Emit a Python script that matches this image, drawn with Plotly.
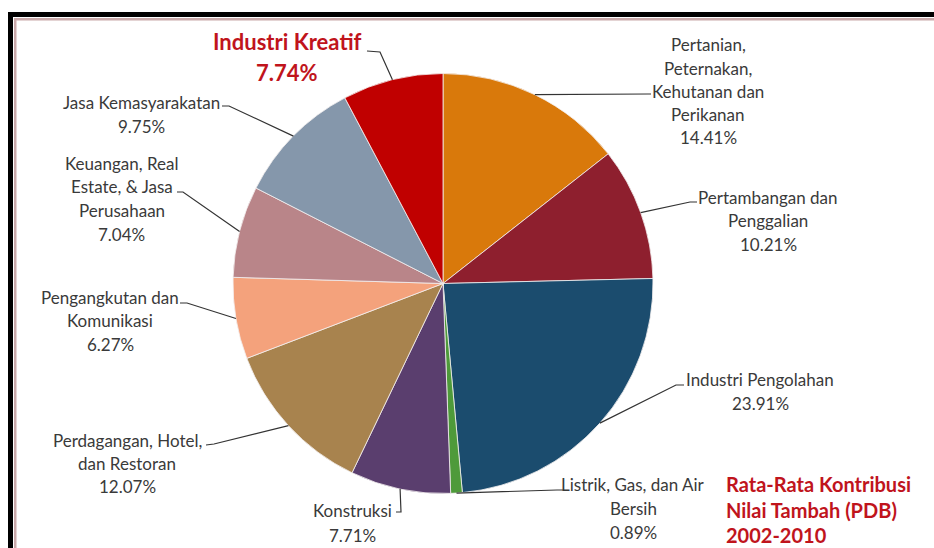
import numpy as np
import plotly.graph_objects as go

# ---------------- data ----------------
sectors = [
    "Pertanian, Peternakan, Kehutanan dan Perikanan",
    "Pertambangan dan Penggalian",
    "Industri Pengolahan",
    "Listrik, Gas, dan Air Bersih",
    "Konstruksi",
    "Perdagangan, Hotel, dan Restoran",
    "Pengangkutan dan Komunikasi",
    "Keuangan, Real Estate, & Jasa Perusahaan",
    "Jasa Kemasyarakatan",
    "Industri Kreatif",
]
shares = [14.41, 10.21, 23.91, 0.89, 7.71, 12.07, 6.27, 7.04, 9.75, 7.74]
label_lines = [
    ["Pertanian,", "Peternakan,", "Kehutanan dan", "Perikanan"],
    ["Pertambangan dan", "Penggalian"],
    ["Industri Pengolahan"],
    ["Listrik, Gas, dan Air", "Bersih"],
    ["Konstruksi"],
    ["Perdagangan, Hotel,", "dan Restoran"],
    ["Pengangkutan dan", "Komunikasi"],
    ["Keuangan, Real", "Estate, & Jasa", "Perusahaan"],
    ["Jasa Kemasyarakatan"],
    ["Industri Kreatif"],
]
colors = ["#D9790B", "#8E1F2E", "#1B4C6E", "#4E9A3A", "#5A3E6E",
          "#A8834E", "#F4A27C", "#B98589", "#8597AB", "#C00000"]
title_lines = ["Rata-Rata Kontribusi", "Nilai Tambah (PDB)", "2002-2010"]

# ---------------- layout (pixels) ----------------
W, H = 934, 548
CX, CY, R = 443, 283.5, 210

def px(x):
    return x / W

def py(y):
    return 1 - y / H

# label text block: center x, first line y, line spacing
label_pos = [
    (708, 45, 23.2),
    (768, 197, 23.5),
    (760, 379, 24),
    (633, 484, 24.3),
    (352, 510, 25),
    (127, 440, 23.3),
    (110, 297, 23.5),
    (122, 163, 23.7),
    (141, 102, 25),
    (287, 42, 30),
]
# leader: start point near text, elbow point (then to slice edge)
leader_pts = [
    ((651, 94), (648, 94)),
    ((697, 202), (690, 202)),
    ((684, 385), (676, 385)),
    ((563, 490), (557, 490)),
    ((396, 512), (401, 512)),
    ((206, 445), (214, 444)),
    ((180, 303), (187, 303)),
    ((177, 192), (183, 192)),
    ((222, 106), (229, 106)),
    ((367, 51), (380, 52)),
]

fig = go.Figure()
fig.add_trace(go.Pie(
    labels=sectors, values=shares, sort=False, direction="clockwise",
    rotation=0, marker=dict(colors=colors, line=dict(color="#F4F0F0", width=0.8)),
    textinfo="none", hoverinfo="label+percent", showlegend=False,
    domain=dict(x=[px(CX - R), px(CX + R)], y=[py(CY + R), py(CY - R)]),
))

shapes = []
# frame
shapes.append(dict(type="rect", xref="paper", yref="paper", x0=px(8), x1=px(W), y0=py(12), y1=py(17),
                   fillcolor="#000000", line=dict(width=0), layer="above"))
shapes.append(dict(type="rect", xref="paper", yref="paper", x0=px(8), x1=px(13), y0=py(12), y1=py(H),
                   fillcolor="#000000", line=dict(width=0), layer="above"))
shapes.append(dict(type="rect", xref="paper", yref="paper", x0=px(14), x1=px(W), y0=py(18), y1=py(20.5),
                   fillcolor="#C9A9AA", line=dict(width=0), layer="above"))
shapes.append(dict(type="rect", xref="paper", yref="paper", x0=px(14), x1=px(16.5), y0=py(18), y1=py(H),
                   fillcolor="#C9A9AA", line=dict(width=0), layer="above"))

annotations = []
cum = np.cumsum([0] + shares[:-1])
total = sum(shares)
grey = "#3A3A3A"
for i, (s, c0) in enumerate(zip(shares, cum)):
    mid = (c0 + s / 2) / total * 2 * np.pi
    ex, ey = CX + R * np.sin(mid), CY - R * np.cos(mid)
    (ax, ay), (bx, by) = leader_pts[i]
    path = f"M {px(ax)} {py(ay)} L {px(bx)} {py(by)} L {px(ex)} {py(ey)}"
    shapes.append(dict(type="path", xref="paper", yref="paper", path=path,
                       line=dict(color="#333333", width=1.2), layer="above"))
    cx, y0, dy = label_pos[i]
    lines = label_lines[i] + [f"{s:.2f}%"]
    kreatif = sectors[i] == "Industri Kreatif"
    for k, t in enumerate(lines):
        annotations.append(dict(
            x=px(cx), y=py(y0 + k * dy), xref="paper", yref="paper", text=t,
            showarrow=False, xanchor="center", yanchor="middle",
            font=dict(family="Lato", size=22 if kreatif else 17,
                      color="#C0141C" if kreatif else grey,
                      weight="bold" if kreatif else "normal"),
        ))

for k, t in enumerate(title_lines):
    annotations.append(dict(
        x=px(724), y=py(484 + k * 25.5), xref="paper", yref="paper", text=t,
        showarrow=False, xanchor="left", yanchor="middle",
        font=dict(family="Lato", size=20, color="#C0141C", weight="bold"),
    ))

fig.update_layout(
    width=W, height=H, margin=dict(l=0, r=0, t=0, b=0),
    paper_bgcolor="white", plot_bgcolor="white",
    shapes=shapes, annotations=annotations,
)
fig.write_html("out.html")
